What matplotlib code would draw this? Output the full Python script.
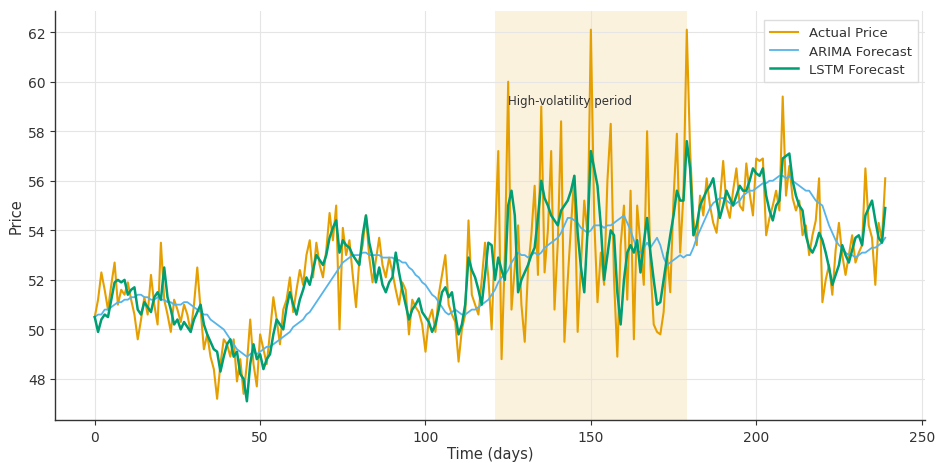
import matplotlib
matplotlib.use("Agg")
import matplotlib.pyplot as plt
import numpy as np

days = list(range(240))

actual = [
    50.5, 51.2, 52.3, 51.6, 50.8, 51.8, 52.7, 51.0, 51.6, 51.4,
    51.9, 51.2, 50.6, 49.6, 50.4, 51.3, 50.6, 52.2, 51.0, 50.2,
    53.5, 51.2, 50.6, 49.9, 51.2, 50.8, 50.3, 51.0, 50.6, 49.9,
    51.0, 52.5, 50.8, 49.2, 49.8, 48.9, 48.4, 47.2, 48.6, 49.6,
    49.4, 48.9, 49.6, 47.9, 48.8, 47.4, 48.6, 50.4, 48.6, 47.7,
    49.8, 49.2, 48.6, 49.9, 51.3, 50.4, 49.4, 50.8, 51.2, 52.1,
    50.7, 51.6, 52.4, 51.8, 53.0, 53.6, 52.1, 53.5, 52.6, 52.1,
    53.2, 54.7, 53.6, 55.0, 50.0, 54.1, 53.0, 53.6, 52.2, 50.9,
    52.8, 53.4, 54.6, 52.9, 51.9, 52.8, 53.7, 52.6, 52.1, 52.9,
    52.3, 51.6, 51.0, 51.9, 51.6, 49.8, 51.2, 50.9, 50.7, 50.2,
    49.1, 50.4, 50.8, 49.9, 51.4, 52.2, 53.0, 51.0, 50.6, 50.3,
    48.7, 50.0, 50.6, 54.4, 51.4, 51.0, 50.6, 52.0, 53.5, 52.1,
    50.0, 53.6, 57.2, 48.8, 53.0, 60.0, 50.8, 52.5, 54.2, 51.0,
    49.5, 52.4, 53.8, 55.8, 52.2, 59.0, 52.3, 54.0, 57.2, 50.8,
    53.5, 58.4, 49.5, 52.0, 54.2, 56.2, 49.9, 52.6, 55.2, 53.8,
    62.1, 54.5, 51.1, 53.1, 51.8, 56.0, 58.3, 52.0, 48.9, 53.4,
    55.0, 51.2, 55.6, 49.6, 55.0, 53.4, 51.8, 58.0, 52.6, 50.2,
    49.9, 49.8, 50.7, 53.1, 51.5, 55.3, 57.9, 53.1, 55.5, 62.1,
    57.2, 54.5, 53.4, 55.4, 54.6, 56.1, 55.0, 54.3, 53.9, 55.2,
    56.8, 55.0, 54.5, 55.6, 56.5, 55.0, 54.8, 56.7, 55.5, 54.6,
    56.9, 56.8, 56.9, 53.8, 54.5, 55.0, 55.6, 54.8, 59.4, 55.4,
    56.6, 55.3, 54.8, 55.2, 53.8, 54.2, 53.0, 53.8, 54.4, 56.1,
    51.1, 52.0, 52.6, 51.4, 53.2, 54.3, 53.0, 52.2, 53.0, 53.8,
    52.7, 53.1, 53.4, 56.5, 54.2, 53.7, 51.8, 54.3, 53.6, 56.1,
]

arima = [
    50.5, 50.6, 50.6, 50.8, 50.8, 50.9, 51.0, 51.1, 51.1, 51.2,
    51.2, 51.3, 51.3, 51.4, 51.4, 51.3, 51.3, 51.2, 51.2, 51.3,
    51.2, 51.2, 51.1, 51.1, 51.0, 51.0, 51.0, 51.1, 51.1, 51.0,
    50.9, 50.8, 50.7, 50.6, 50.6, 50.4, 50.3, 50.2, 50.1, 50.0,
    49.8, 49.6, 49.4, 49.2, 49.1, 49.0, 48.9, 49.0, 49.1, 49.0,
    49.1, 49.2, 49.3, 49.3, 49.4, 49.5, 49.6, 49.7, 49.8, 49.9,
    50.1, 50.2, 50.3, 50.4, 50.6, 50.7, 50.9, 51.1, 51.3, 51.5,
    51.7, 51.9, 52.1, 52.3, 52.5, 52.7, 52.8, 52.9, 53.0, 53.0,
    53.0, 53.1, 53.1, 53.0, 53.0, 53.0, 53.0, 52.9, 52.9, 52.9,
    52.9, 52.8, 52.8, 52.7, 52.7, 52.5, 52.4, 52.2, 52.1, 51.9,
    51.8, 51.6, 51.4, 51.3, 51.1, 50.9, 50.7, 50.6, 50.7, 50.8,
    50.7, 50.6, 50.6, 50.7, 50.8, 50.8, 50.9, 51.0, 51.1, 51.2,
    51.4, 51.6, 51.9, 52.1, 52.2, 52.4, 52.7, 52.9, 53.1, 53.0,
    53.0, 52.9, 53.0, 53.1, 53.0, 53.1, 53.3, 53.4, 53.5, 53.6,
    53.7, 53.9, 54.2, 54.5, 54.5, 54.4, 54.3, 54.1, 54.0, 53.9,
    54.0, 54.2, 54.2, 54.2, 54.1, 54.2, 54.2, 54.3, 54.4, 54.5,
    54.6, 54.3, 54.0, 53.6, 53.2, 53.1, 53.3, 53.5, 53.3, 53.5,
    53.7, 53.4, 52.9, 52.6, 52.7, 52.8, 52.9, 53.0, 52.9, 53.0,
    53.0, 53.3, 53.7, 54.0, 54.3, 54.6, 54.9, 55.1, 55.2, 55.3,
    55.3, 55.2, 55.1, 55.0, 55.1, 55.2, 55.4, 55.5, 55.6, 55.6,
    55.7, 55.8, 55.9, 55.9, 56.0, 56.0, 56.1, 56.2, 56.2, 56.1,
    56.2, 56.0, 55.9, 55.8, 55.7, 55.6, 55.6, 55.4, 55.2, 55.1,
    55.0, 54.6, 54.2, 53.9, 53.6, 53.4, 53.3, 53.1, 53.0, 53.0,
    52.9, 53.0, 53.1, 53.1, 53.2, 53.3, 53.3, 53.4, 53.5, 53.7,
]

lstm = [
    50.5, 49.9, 50.4, 50.6, 50.5, 51.2, 51.9, 52.0, 51.9, 52.0,
    51.4, 51.6, 51.7, 50.8, 50.6, 51.1, 50.9, 50.7, 51.3, 51.5,
    51.2, 52.5, 51.3, 50.8, 50.2, 50.4, 50.0, 50.3, 50.1, 49.9,
    50.4, 50.7, 51.0, 50.2, 49.8, 49.5, 49.2, 49.1, 48.3, 48.9,
    49.4, 49.6, 48.9, 49.1, 48.2, 48.0, 47.1, 48.6, 49.4, 48.8,
    49.0, 48.4, 48.8, 49.0, 49.8, 50.4, 50.2, 50.0, 50.9, 51.5,
    51.0, 50.6, 51.2, 51.6, 52.1, 51.8, 52.4, 53.0, 52.8, 52.6,
    53.0, 53.7, 54.1, 54.4, 53.1, 53.6, 53.4, 53.3, 53.0, 52.8,
    52.6, 53.8, 54.6, 53.5, 52.9, 51.9, 52.5, 51.8, 51.5, 51.9,
    52.1, 53.1, 52.3, 51.6, 51.0, 50.4, 50.8, 51.0, 51.25, 50.7,
    50.5, 50.3, 49.9, 50.2, 50.8, 51.5, 51.7, 51.3, 51.5, 50.6,
    49.8, 50.2, 51.0, 52.9, 52.4, 52.1, 51.6, 51.0, 52.2, 53.5,
    53.4, 52.0, 52.9, 52.4, 52.0, 55.0, 55.6, 54.6, 51.5, 52.0,
    52.3, 52.6, 53.0, 53.3, 54.5, 56.0, 55.3, 55.0, 54.6, 54.4,
    54.2, 54.8, 55.0, 55.2, 55.6, 56.2, 53.9, 52.5, 51.5, 54.0,
    57.2, 56.5, 55.8, 54.2, 52.0, 53.0, 54.0, 53.8, 51.5, 50.2,
    52.0, 53.1, 53.4, 53.1, 53.6, 52.3, 53.5, 54.5, 53.1, 52.0,
    51.0, 51.1, 52.0, 52.9, 53.8, 54.6, 55.6, 55.2, 55.2, 57.6,
    56.5, 53.8, 54.2, 55.0, 55.3, 55.6, 55.8, 56.1, 55.2, 54.5,
    55.0, 55.6, 55.3, 55.0, 55.4, 55.8, 55.6, 55.6, 56.0, 56.5,
    56.3, 56.2, 56.5, 55.4, 54.8, 54.4, 55.0, 55.2, 56.9, 57.0,
    57.1, 56.0, 55.4, 55.0, 54.8, 53.8, 53.3, 53.1, 53.4, 53.9,
    53.6, 53.1, 52.5, 51.8, 52.2, 52.6, 53.4, 53.0, 52.7, 53.2,
    53.7, 53.8, 53.4, 54.6, 54.9, 55.2, 54.4, 53.7, 53.5, 54.9,
]

series_labels = ["Actual Price", "ARIMA Forecast", "LSTM Forecast"]
volatility_span = (121, 179)
annotation_text = "High-volatility period"

fig = plt.figure(figsize=(9.36, 4.64), dpi=100)
ax = fig.add_axes([0.059, 0.093, 0.929, 0.881])

ax.axvspan(volatility_span[0], volatility_span[1], color="#E69F00", alpha=0.13, lw=0, zorder=0)
ax.plot(days, actual, color="#E69F00", lw=1.5, label=series_labels[0], zorder=3)
ax.plot(days, arima, color="#56B4E9", lw=1.3, label=series_labels[1], zorder=4)
ax.plot(days, lstm, color="#009E73", lw=1.8, label=series_labels[2], zorder=5)

ax.text(volatility_span[0] + 4, 59.25, annotation_text, fontsize=8.5, color="#333333",
        va="center", ha="left", zorder=6)

ax.set_xlim(-11.95, 250.95)
ax.set_ylim(46.35, 62.85)
ax.set_xticks([0, 50, 100, 150, 200, 250])
ax.set_yticks([48, 50, 52, 54, 56, 58, 60, 62])

ax.grid(True, color="#e5e5e5", lw=0.8, zorder=0)
ax.set_axisbelow(True)
for s in ["top", "right"]:
    ax.spines[s].set_visible(False)
for s in ["left", "bottom"]:
    ax.spines[s].set_color("#333333")
    ax.spines[s].set_linewidth(1.0)
ax.tick_params(axis="both", labelsize=10, colors="#333333", length=3.5, width=0.8)

ax.set_xlabel("Time (days)", fontsize=10.5, color="#333333", labelpad=2)
ax.set_ylabel("Price", fontsize=10.5, color="#333333", labelpad=3)

leg = ax.legend(loc="upper right", fontsize=9.5, frameon=True, fancybox=False,
                edgecolor="#dddddd", framealpha=1.0, borderpad=0.5, handlelength=2.1,
                labelspacing=0.4, bbox_to_anchor=(1.0, 0.995))
for t in leg.get_texts():
    t.set_color("#333333")

fig.savefig("out.png", dpi=100)
